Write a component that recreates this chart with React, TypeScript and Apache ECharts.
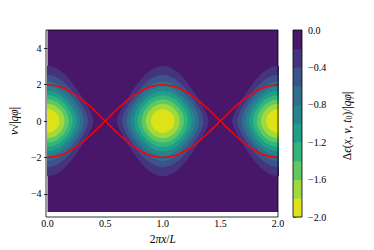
import React, { useEffect, useRef } from 'react';
import * as echarts from 'echarts';

// ---------- data ----------
const xTickValues = [0, 0.5, 1, 1.5, 2];
const vTickValues = [-4, -2, 0, 2, 4];

// colour bands of the filled contour plot (Δε/|qφ|), bottom to top of the colour bar
const bandEdges = [-2.0, -1.8, -1.6, -1.4, -1.2, -1.0, -0.8, -0.6, -0.4, -0.2, 0.0];
const bandColors = ['#dde318', '#9fda3a', '#5ec962', '#31b57b', '#1f9e89', '#25848e', '#2e6e8e', '#3b528b', '#46337f', '#481769'];

// centres of the potential wells (x) where Δε reaches −2
const wellCenters = [0, 1, 2];

// contour outlines: [distance from well centre in x, half height in v]
const contour02 = [[0, 3.035], [0.05, 2.981], [0.1, 2.823], [0.15, 2.565], [0.2, 2.218], [0.25, 1.794], [0.28, 1.509], [0.3, 1.309], [0.32, 1.101], [0.34, 0.884], [0.35, 0.772], [0.36, 0.657], [0.37, 0.536], [0.38, 0.406], [0.385, 0.334], [0.39, 0.251], [0.395, 0.142], [0.3976, 0]];
const contour04 = [[0, 2.537], [0.05, 2.487], [0.1, 2.337], [0.15, 2.092], [0.2, 1.762], [0.25, 1.353], [0.28, 1.073], [0.3, 0.869], [0.31, 0.76], [0.32, 0.645], [0.33, 0.518], [0.34, 0.371], [0.345, 0.282], [0.35, 0.158], [0.3524, 0]];
const contour06 = [[0, 2.195], [0.05, 2.145], [0.1, 1.998], [0.15, 1.758], [0.2, 1.429], [0.22, 1.273], [0.24, 1.102], [0.25, 1.01], [0.26, 0.915], [0.27, 0.812], [0.28, 0.702], [0.29, 0.581], [0.3, 0.442], [0.31, 0.256], [0.3155, 0]];
const contour08 = [[0, 1.914], [0.05, 1.865], [0.1, 1.719], [0.15, 1.476], [0.18, 1.283], [0.2, 1.135], [0.21, 1.055], [0.22, 0.969], [0.23, 0.876], [0.24, 0.777], [0.25, 0.668], [0.26, 0.545], [0.27, 0.395], [0.275, 0.299], [0.28, 0.159], [0.2821, 0]];
const contour10 = [[0, 1.665], [0.05, 1.615], [0.1, 1.465], [0.13, 1.325], [0.15, 1.212], [0.17, 1.079], [0.19, 0.926], [0.2, 0.84], [0.21, 0.745], [0.22, 0.639], [0.23, 0.515], [0.24, 0.36], [0.245, 0.253], [0.25, 0]];
const contour12 = [[0, 1.429], [0.05, 1.377], [0.1, 1.218], [0.12, 1.124], [0.14, 1.009], [0.15, 0.943], [0.16, 0.87], [0.17, 0.79], [0.18, 0.701], [0.19, 0.599], [0.2, 0.477], [0.21, 0.315], [0.215, 0.191], [0.218, 0]];
const contour14 = [[0, 1.194], [0.05, 1.138], [0.08, 1.048], [0.1, 0.963], [0.11, 0.912], [0.12, 0.854], [0.13, 0.789], [0.14, 0.717], [0.15, 0.633], [0.16, 0.534], [0.17, 0.41], [0.175, 0.332], [0.18, 0.228], [0.1845, 0]];
const contour16 = [[0, 0.945], [0.04, 0.904], [0.06, 0.851], [0.08, 0.773], [0.09, 0.724], [0.1, 0.667], [0.11, 0.598], [0.12, 0.518], [0.13, 0.417], [0.14, 0.275], [0.145, 0.163], [0.1476, 0]];
const contour18 = [[0, 0.649], [0.02, 0.636], [0.04, 0.593], [0.06, 0.519], [0.07, 0.465], [0.08, 0.394], [0.09, 0.3], [0.095, 0.233], [0.1, 0.134], [0.1024, 0]];
const contourProfiles = [contour02, contour04, contour06, contour08, contour10, contour12, contour14, contour16, contour18];

// separatrix (red curves)
const separatrixX = [0, 0.1, 0.2, 0.3, 0.4, 0.5, 0.6, 0.7, 0.8, 0.9, 1.0, 1.1, 1.2, 1.3, 1.4, 1.5, 1.6, 1.7, 1.8, 1.9, 2.0];
const separatrixUpper = [2, 1.902, 1.618, 1.176, 0.618, 0, -0.618, -1.176, -1.618, -1.902, -2, -1.902, -1.618, -1.176, -0.618, 0, 0.618, 1.176, 1.618, 1.902, 2];
const separatrixLower = [-2, -1.902, -1.618, -1.176, -0.618, 0, 0.618, 1.176, 1.618, 1.902, 2, 1.902, 1.618, 1.176, 0.618, 0, -0.618, -1.176, -1.618, -1.902, -2];

// ---------- styling ----------
const FONT = "'Liberation Serif', 'DejaVu Serif', serif";
const minus = (s: string) => s.replace('-', '\u2212');

const G = { left: 46, top: 30, width: 232, height: 187 };
const CB = { left: 293, top: 30, width: 9, height: 187 };

export default function App() {
  const ref = useRef<HTMLDivElement>(null);

  useEffect(() => {
    if (!ref.current) return;
    const chart = echarts.init(ref.current, undefined, { renderer: 'svg' });

    const contourData: number[][] = [];
    contourProfiles.forEach((_, k) => {
      wellCenters.forEach((c) => contourData.push([c, k]));
    });

    const cbarData = bandColors.map((_, i) => [bandEdges[i], bandEdges[i + 1], i]);

    const axisLabelStyle = { fontFamily: FONT, fontSize: 10, color: '#000' };
    const rich = {
      i: { fontFamily: FONT, fontSize: 11.5, fontStyle: 'italic' as const, color: '#000' },
      n: { fontFamily: FONT, fontSize: 11.5, color: '#000' },
      s: { fontFamily: FONT, fontSize: 8, color: '#000', padding: [5, 0, 0, 0] },
    };

    const option: any = {
      animation: false,
      grid: [
        { ...G, show: true, backgroundColor: bandColors[9], borderWidth: 0 },
        { ...CB, show: false },
      ],
      xAxis: [
        {
          gridIndex: 0,
          type: 'value',
          min: xTickValues[0],
          max: xTickValues[xTickValues.length - 1],
          interval: 0.5,
          axisLine: { show: false },
          axisTick: { show: true, length: 3.5, lineStyle: { color: '#000', width: 0.8 } },
          splitLine: { show: false },
          axisLabel: { ...axisLabelStyle, margin: 6, formatter: (v: number) => minus(v.toFixed(1)) },
          name: '{n|2}{i|πx}{n|/}{i|L}',
          nameLocation: 'middle',
          nameGap: 16,
          nameTextStyle: { ...axisLabelStyle, rich },
        },
        {
          gridIndex: 1,
          type: 'value',
          min: 0,
          max: 1,
          show: false,
        },
      ],
      yAxis: [
        {
          gridIndex: 0,
          type: 'value',
          min: -5,
          max: 5,
          axisLine: { show: false },
          axisTick: { show: true, length: 3.5, customValues: vTickValues, lineStyle: { color: '#000', width: 0.8 } },
          splitLine: { show: false },
          axisLabel: { ...axisLabelStyle, margin: 6, customValues: vTickValues, formatter: (v: number) => minus(String(v)) },
          name: '{i|v}{n|√|}{i|qφ}{n||}',
          nameLocation: 'middle',
          nameGap: 24,
          nameTextStyle: { ...axisLabelStyle, rich },
        },
        {
          gridIndex: 1,
          type: 'value',
          position: 'right',
          min: -2,
          max: 0,
          interval: 0.4,
          axisLine: { show: false },
          axisTick: { show: true, length: 3.5, lineStyle: { color: '#000', width: 0.8 } },
          splitLine: { show: false },
          axisLabel: { ...axisLabelStyle, margin: 6, formatter: (v: number) => minus(v.toFixed(1)) },
        },
      ],
      series: [
        {
          type: 'custom',
          xAxisIndex: 0,
          yAxisIndex: 0,
          clip: true,
          silent: true,
          data: contourData,
          renderItem: (_params: any, api: any) => {
            const c = api.value(0) as number;
            const k = api.value(1) as number;
            const prof = contourProfiles[k];
            const n = prof.length;
            const pts: number[][] = [];
            for (let i = n - 1; i >= 0; i--) pts.push(api.coord([c - prof[i][0], prof[i][1]]));
            for (let i = 1; i < n; i++) pts.push(api.coord([c + prof[i][0], prof[i][1]]));
            for (let i = n - 2; i >= 0; i--) pts.push(api.coord([c + prof[i][0], -prof[i][1]]));
            for (let i = 1; i <= n - 2; i++) pts.push(api.coord([c - prof[i][0], -prof[i][1]]));
            return {
              type: 'polygon',
              shape: { points: pts },
              style: { fill: bandColors[8 - k], stroke: null },
            };
          },
        },
        {
          type: 'line',
          xAxisIndex: 0,
          yAxisIndex: 0,
          z: 5,
          showSymbol: false,
          smooth: 0.3,
          silent: true,
          data: separatrixX.map((x, i) => [x, separatrixUpper[i]]),
          lineStyle: { color: '#ff0000', width: 1.5 },
        },
        {
          type: 'line',
          xAxisIndex: 0,
          yAxisIndex: 0,
          z: 5,
          showSymbol: false,
          smooth: 0.3,
          silent: true,
          data: separatrixX.map((x, i) => [x, separatrixLower[i]]),
          lineStyle: { color: '#ff0000', width: 1.5 },
        },
        {
          type: 'custom',
          xAxisIndex: 1,
          yAxisIndex: 1,
          silent: true,
          data: cbarData,
          renderItem: (_params: any, api: any) => {
            const lo = api.value(0) as number;
            const hi = api.value(1) as number;
            const idx = api.value(2) as number;
            const p1 = api.coord([0, hi]);
            const p2 = api.coord([1, lo]);
            return {
              type: 'rect',
              shape: { x: p1[0], y: p1[1], width: p2[0] - p1[0], height: p2[1] - p1[1] + 0.5 },
              style: { fill: bandColors[idx], stroke: null },
            };
          },
        },
      ],
      graphic: [
        {
          type: 'rect',
          z: 100,
          silent: true,
          shape: { x: G.left, y: G.top, width: G.width, height: G.height },
          style: { fill: 'none', stroke: '#000', lineWidth: 0.8 },
        },
        {
          type: 'rect',
          z: 100,
          silent: true,
          shape: { x: CB.left, y: CB.top, width: CB.width, height: CB.height },
          style: { fill: 'none', stroke: '#000', lineWidth: 0.8 },
        },
        {
          type: 'text',
          z: 100,
          x: 347,
          y: 126,
          rotation: Math.PI / 2,
          silent: true,
          style: {
            text: '{n|Δ}{i|ϵ}{n|(}{i|x}{n|, }{i|v}{n|, }{i|t}{s|0}{n|)/|}{i|qφ}{n||}',
            rich,
            align: 'center',
            verticalAlign: 'middle',
            textAlign: 'center',
            textVerticalAlign: 'middle',
            fontFamily: FONT,
            fontSize: 11.5,
            fill: '#000',
          },
        },
      ],
    };

    chart.setOption(option);
    return () => chart.dispose();
  }, []);

  return (
    <div
      ref={ref}
      style={{ position: 'fixed', left: 0, top: 0, width: 374, height: 250, background: '#fff' }}
    />
  );
}
